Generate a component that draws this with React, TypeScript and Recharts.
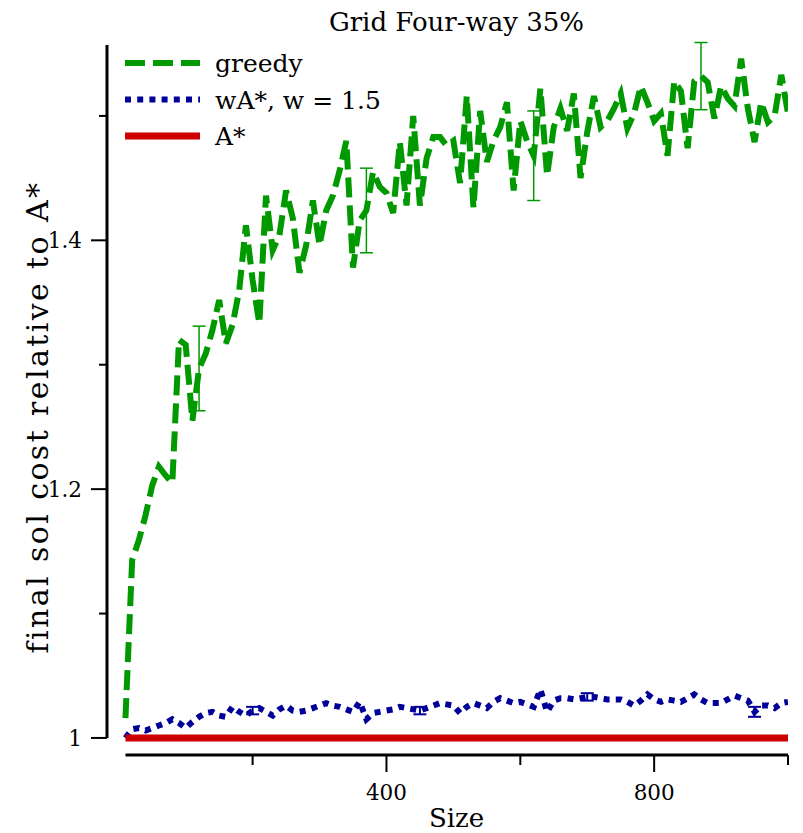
import React from 'react';
import { LineChart, Line, XAxis, YAxis, ErrorBar, ReferenceLine, Legend } from 'recharts';

const sizes = [10, 20, 30, 40, 50, 60, 70, 80, 90, 100, 110, 120, 130, 140, 150, 160, 170, 180, 190, 200, 210, 220, 230, 240, 250, 260, 270, 280, 290, 300, 310, 320, 330, 340, 350, 360, 370, 380, 390, 400, 410, 420, 430, 440, 450, 460, 470, 480, 490, 500, 510, 520, 530, 540, 550, 560, 570, 580, 590, 600, 610, 620, 630, 640, 650, 660, 670, 680, 690, 700, 710, 720, 730, 740, 750, 760, 770, 780, 790, 800, 810, 820, 830, 840, 850, 860, 870, 880, 890, 900, 910, 920, 930, 940, 950, 960, 970, 980, 990, 1000];

const greedy = [1.016, 1.143, 1.159, 1.179, 1.203, 1.218, 1.211, 1.205, 1.32, 1.316, 1.255, 1.297, 1.309, 1.328, 1.352, 1.317, 1.332, 1.36, 1.412, 1.368, 1.333, 1.436, 1.392, 1.404, 1.44, 1.418, 1.374, 1.396, 1.432, 1.396, 1.424, 1.436, 1.456, 1.48, 1.378, 1.416, 1.424, 1.455, 1.443, 1.438, 1.422, 1.479, 1.428, 1.5, 1.428, 1.466, 1.483, 1.483, 1.476, 1.48, 1.446, 1.516, 1.426, 1.504, 1.463, 1.48, 1.491, 1.511, 1.44, 1.496, 1.48, 1.468, 1.522, 1.452, 1.491, 1.506, 1.488, 1.518, 1.45, 1.487, 1.516, 1.491, 1.496, 1.506, 1.518, 1.49, 1.502, 1.524, 1.511, 1.496, 1.502, 1.468, 1.528, 1.52, 1.474, 1.528, 1.532, 1.527, 1.498, 1.524, 1.514, 1.508, 1.546, 1.506, 1.479, 1.511, 1.495, 1.5, 1.533, 1.502];

const wastar = [1.0, 1.007, 1.008, 1.006, 1.008, 1.01, 1.012, 1.015, 1.012, 1.008, 1.013, 1.017, 1.02, 1.021, 1.018, 1.017, 1.025, 1.021, 1.018, 1.022, 1.024, 1.021, 1.018, 1.023, 1.026, 1.022, 1.021, 1.022, 1.024, 1.026, 1.028, 1.026, 1.025, 1.023, 1.021, 1.029, 1.015, 1.02, 1.021, 1.022, 1.023, 1.025, 1.024, 1.023, 1.022, 1.024, 1.026, 1.028, 1.027, 1.026, 1.02, 1.025, 1.028, 1.026, 1.024, 1.029, 1.032, 1.03, 1.028, 1.029, 1.027, 1.025, 1.039, 1.021, 1.03, 1.032, 1.032, 1.031, 1.032, 1.033, 1.033, 1.032, 1.031, 1.031, 1.031, 1.029, 1.026, 1.03, 1.035, 1.031, 1.029, 1.031, 1.03, 1.029, 1.032, 1.035, 1.031, 1.028, 1.028, 1.028, 1.031, 1.034, 1.032, 1.03, 1.021, 1.026, 1.026, 1.024, 1.028, 1.029];

const astar = sizes.map(() => 1.0);

const greedyErrSizes = [120, 370, 620, 870];
const greedyErrValues = [0.034, 0.034, 0.036, 0.027];
const wastarErrSizes = [200, 450, 700, 950];
const wastarErrValues = [0.003, 0.003, 0.003, 0.004];

const xTicks = [200, 400, 600, 800, 1000];
const xLabeled = [400, 800];
const yTicks = [1, 1.1, 1.2, 1.3, 1.4, 1.5];
const yLabeled = [1, 1.2, 1.4];

const title = 'Grid Four-way 35%';
const xLabel = 'Size';
const yLabel = 'final sol cost relative to A*';
const seriesNames = ['greedy', 'wA*, w = 1.5', 'A*'];

const GREEN = '#009900';
const BLUE = '#000099';
const RED = '#cc0000';
const FONT = '"DejaVu Serif", "Liberation Serif", serif';

const data = sizes.map((s, i) => {
  const gi = greedyErrSizes.indexOf(s);
  const wi = wastarErrSizes.indexOf(s);
  return {
    size: s,
    greedy: greedy[i],
    wastar: wastar[i],
    astar: astar[i],
    greedyErr: gi >= 0 ? greedyErrValues[gi] : undefined,
    wastarErr: wi >= 0 ? wastarErrValues[wi] : undefined,
  };
});

const X_MIN = -17.6;
const Y_MIN = 0.9863;
const Y_MAX = 1.557;

const fmtY = (v: number) => (v === 1 ? '1' : v.toFixed(1));

const YTick = (props: any) => {
  const { x, y, payload } = props;
  const major = yLabeled.includes(payload.value);
  const len = major ? 16 : 8;
  return (
    <g>
      <line x1={x - len} x2={x} y1={y} y2={y} stroke="#000" strokeWidth={2} />
      {major && (
        <text x={x - len - 9} y={y} dy="0.36em" textAnchor="end" fontFamily={FONT} fontSize={21.5} fill="#000">
          {fmtY(payload.value)}
        </text>
      )}
    </g>
  );
};

const XTick = (props: any) => {
  const { x, y, payload } = props;
  const major = xLabeled.includes(payload.value);
  const len = major ? 17 : 10;
  return (
    <g>
      <line x1={x} x2={x} y1={y} y2={y + len} stroke="#000" strokeWidth={2} />
      {major && (
        <text x={x} y={y + 45} textAnchor="middle" fontFamily={FONT} fontSize={21.5} fill="#000">
          {payload.value}
        </text>
      )}
    </g>
  );
};

const LegendContent = () => {
  const rows = [
    { name: seriesNames[0], color: GREEN, dash: '20 8', width: 6 },
    { name: seriesNames[1], color: BLUE, dash: '6 6.2', width: 6 },
    { name: seriesNames[2], color: RED, dash: undefined, width: 7 },
  ];
  return (
    <svg width={320} height={120} style={{ display: 'block' }}>
      {rows.map((r, i) => (
        <g key={r.name}>
          <line x1={7} x2={82} y1={21 + i * 36.5} y2={21 + i * 36.5} stroke={r.color} strokeWidth={r.width} strokeDasharray={r.dash} />
          <text x={97} y={30 + i * 36.5} fontFamily={FONT} fontSize={25} fill="#000">
            {r.name}
          </text>
        </g>
      ))}
    </svg>
  );
};

export default function App() {
  return (
    <div style={{ position: 'absolute', left: 0, top: 0, width: 803, height: 833, background: '#fff' }}>
      <LineChart width={803} height={833} data={data} margin={{ top: 45, right: 15, bottom: 18, left: 47 }}>
        <XAxis
          dataKey="size"
          type="number"
          domain={[X_MIN, 1000]}
          allowDataOverflow
          ticks={xTicks}
          interval={0}
          height={60}
          axisLine={false}
          tickLine={false}
          tickSize={0}
          tickMargin={0}
          tick={<XTick />}
        />
        <YAxis
          type="number"
          domain={[Y_MIN, Y_MAX]}
          allowDataOverflow
          ticks={yTicks}
          interval={0}
          width={60}
          axisLine={false}
          tickLine={false}
          tickSize={0}
          tickMargin={0}
          tick={<YTick />}
        />
        <ReferenceLine
          segment={[{ x: X_MIN, y: 1 }, { x: X_MIN, y: Y_MAX }]}
          stroke="#000"
          strokeWidth={3}
          ifOverflow="visible"
        />
        <ReferenceLine
          segment={[{ x: 10, y: Y_MIN }, { x: 1000, y: Y_MIN }]}
          stroke="#000"
          strokeWidth={3}
          ifOverflow="visible"
        />
        <Line
          dataKey="greedy"
          type="linear"
          stroke={GREEN}
          strokeWidth={6}
          strokeDasharray="20 8"
          dot={false}
          activeDot={false}
          isAnimationActive={false}
        >
          <ErrorBar dataKey="greedyErr" direction="y" width={6.5} stroke={GREEN} strokeWidth={1.5} isAnimationActive={false} />
        </Line>
        <Line
          dataKey="wastar"
          type="linear"
          stroke={BLUE}
          strokeWidth={6}
          strokeDasharray="6 6.2"
          dot={false}
          activeDot={false}
          isAnimationActive={false}
        >
          <ErrorBar dataKey="wastarErr" direction="y" width={6.5} stroke={BLUE} strokeWidth={2} isAnimationActive={false} />
        </Line>
        <Line
          dataKey="astar"
          type="linear"
          stroke={RED}
          strokeWidth={7}
          dot={false}
          activeDot={false}
          isAnimationActive={false}
        />
        <Legend
          layout="horizontal"
          verticalAlign="middle"
          align="center"
          wrapperStyle={{ left: 118, top: 42, width: 320, height: 120 }}
          content={() => <LegendContent />}
        />
      </LineChart>
      <svg width={803} height={833} style={{ position: 'absolute', left: 0, top: 0, pointerEvents: 'none' }}>
        <text x={456.5} y={31} textAnchor="middle" fontFamily={FONT} fontSize={26} fill="#000">
          {title}
        </text>
        <text x={456.5} y={827} textAnchor="middle" fontFamily={FONT} fontSize={26} fill="#000">
          {xLabel}
        </text>
        <text
          x={0}
          y={0}
          transform="translate(48, 417) rotate(-90)"
          textAnchor="middle"
          fontFamily={FONT}
          fontSize={30}
          letterSpacing={2.4}
          fill="#000"
        >
          {yLabel}
        </text>
      </svg>
    </div>
  );
}
